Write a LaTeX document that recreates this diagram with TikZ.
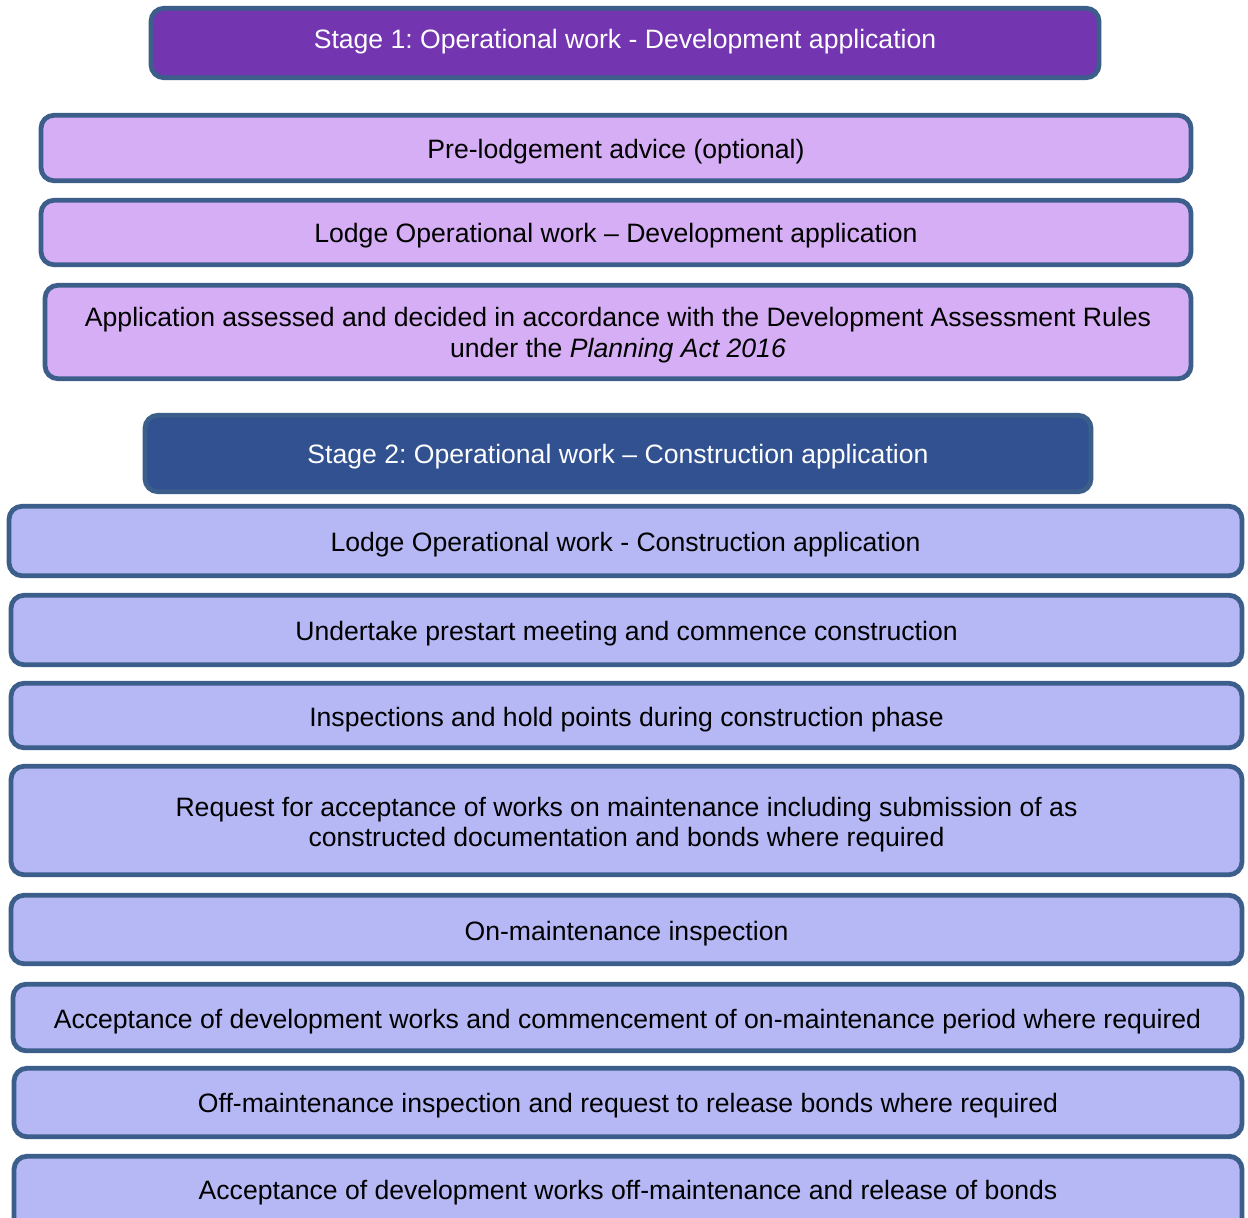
\documentclass[tikz,border=0pt]{standalone}
\usepackage{fontspec}
\setmainfont{Liberation Sans}
\frenchspacing
\definecolor{edge}{HTML}{3C5E8B}
\definecolor{stageA}{HTML}{7335B0}
\definecolor{lightA}{HTML}{D5AEF5}
\definecolor{stageB}{HTML}{325191}
\definecolor{lightB}{HTML}{B6B8F6}
\tikzset{
  base/.style={draw=edge, line width=4.8pt, rounded corners=13pt, inner sep=0pt},
  headA/.style={base, fill=stageA},
  headB/.style={base, fill=stageB},
  itemA/.style={base, fill=lightA},
  itemB/.style={base, fill=lightB},
  txt/.style={align=center, inner sep=0pt, font=\fontsize{26.6}{30.5}\selectfont\frenchspacing, text=black},
  wtxt/.style={txt, text=white},
}
\begin{document}
\begin{tikzpicture}[x=1pt,y=-1pt]
\useasboundingbox (0,0) rectangle (1248,1218);
\node[headA, minimum width=948pt, minimum height=69.5pt] (s1) at (625,43) {};
\node[wtxt] (s1t) at ([yshift=1pt]s1.center) {Stage 1: Operational work - Development application};
\node[itemA, minimum width=1150pt, minimum height=65.5pt] (a) at (616,148) {};
\node[txt] (at) at ([yshift=-4pt]a.center) {Pre-lodgement advice (optional)};
\node[itemA, minimum width=1150pt, minimum height=64.5pt] (b) at (616,232.5) {};
\node[txt] (bt) at ([yshift=-3pt]b.center) {Lodge Operational work – Development application};
\node[itemA, minimum width=1146pt, minimum height=93.5pt] (c) at (618,332) {};
\node[txt] (ct) at ([yshift=-3pt]c.center) {Application assessed and decided in accordance with the Development Assessment Rules\\under the \textit{Planning Act 2016}};
\node[headB, minimum width=946pt, minimum height=76.5pt] (s2) at (618,453.5) {};
\node[wtxt] (s2t) at ([yshift=-3pt]s2.center) {Stage 2: Operational work – Construction application};
\node[itemB, minimum width=1233pt, minimum height=69.5pt] (d) at (625.5,541) {};
\node[txt] (dt) at ([yshift=-4pt]d.center) {Lodge Operational work - Construction application};
\node[itemB, minimum width=1231pt, minimum height=69.5pt] (e) at (626.5,630) {};
\node[txt] (et) at ([yshift=-4pt]e.center) {Undertake prestart meeting and commence construction};
\node[itemB, minimum width=1231pt, minimum height=64.5pt] (f) at (626.5,715.5) {};
\node[txt] (ft) at ([yshift=-4pt]f.center) {Inspections and hold points during construction phase};
\node[itemB, minimum width=1231pt, minimum height=108.5pt] (g) at (626.5,820.5) {};
\node[txt] (gt) at ([yshift=-4pt]g.center) {Request for acceptance of works on maintenance including submission of as\\constructed documentation and bonds where required};
\node[itemB, minimum width=1231pt, minimum height=68.5pt] (h) at (626.5,929.5) {};
\node[txt] (ht) at ([yshift=-4pt]h.center) {On-maintenance inspection};
\node[itemB, minimum width=1229pt, minimum height=66.5pt] (i) at (627.5,1017.5) {};
\node[txt] (it) at ([yshift=-4pt]i.center) {Acceptance of development works and commencement of on-maintenance period where required};
\node[itemB, minimum width=1228pt, minimum height=68.5pt] (j) at (628,1102.5) {};
\node[txt] (jt) at ([yshift=-3pt]j.center) {Off-maintenance inspection and request to release bonds where required};
\node[itemB, minimum width=1228pt, minimum height=74.5pt] (k) at (628,1193.5) {};
\node[txt] (kt) at ([yshift=1pt]k.center) {Acceptance of development works off-maintenance and release of bonds};
\end{tikzpicture}
\end{document}
